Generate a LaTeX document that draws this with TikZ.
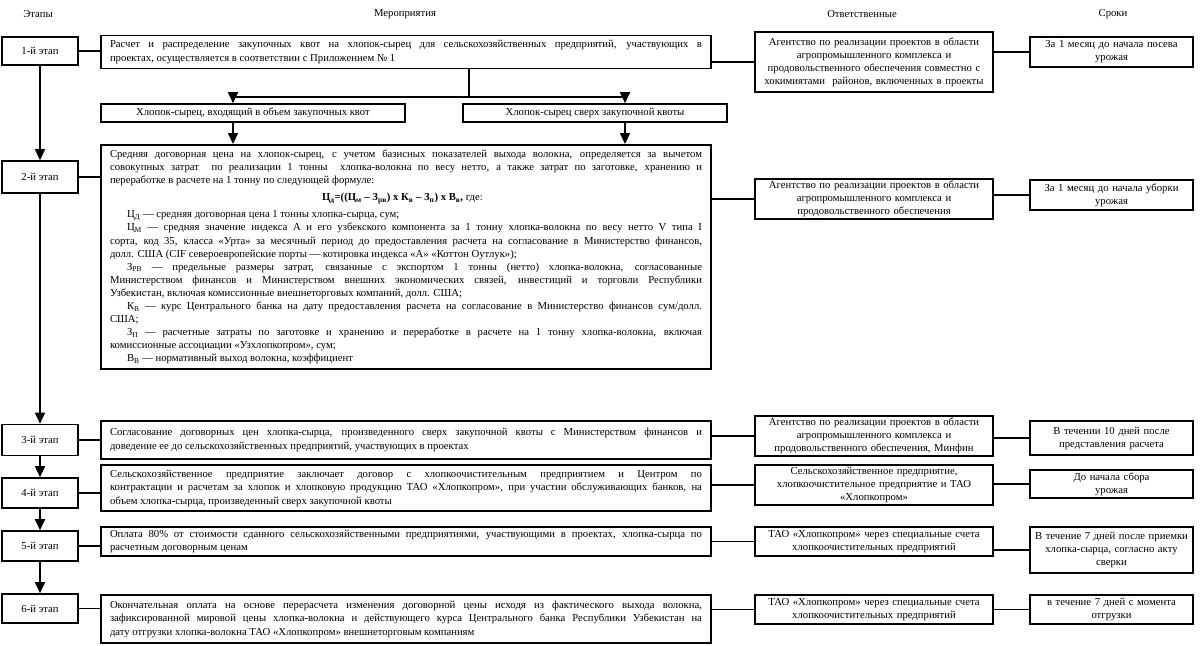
\documentclass[tikz,border=0pt]{standalone}
\usepackage{fontspec}
\setmainfont{Liberation Serif}
\usetikzlibrary{arrows.meta,calc}
\begin{document}
\begin{tikzpicture}[x=1pt,y=-1pt,
  every node/.style={font=\fontsize{10.7}{13.5}\selectfont},
  bx/.style={draw, line width=1.6pt, inner ysep=2pt, inner xsep=4pt},
  stagebox/.style={bx, minimum width=76pt, align=center},
  merop/.style={bx, text width=592pt, inner xsep=9pt, align=justify},
  otv/.style={bx, text width=230pt, align=center, inner ysep=2pt, font=\fontsize{10.7}{13}\selectfont},
  srok/.style={bx, text width=155pt, align=center, inner ysep=2pt, font=\fontsize{10.7}{13}\selectfont},
  sub/.style={bx, align=center},
  conn/.style={line width=1.9pt},
  arr/.style={line width=1.7pt, -{Triangle[length=11pt,width=10pt]}},
  hdr/.style={font=\fontsize{10.7}{13.5}\selectfont}]
\useasboundingbox (0,0) rectangle (1201,645);

% headers
\node[hdr] (h1) at (38,14) {Этапы};
\node[hdr] (h2) at (405,14) {Мероприятия};
\node[hdr] (h3) at (862,14) {Ответственные};
\node[hdr] (h4) at (1113,14) {Сроки};

% row 1
\node[stagebox, minimum height=28pt] (s1) at (40,51) {1-й этап};
\node[merop, minimum height=33pt] (m1) at (406,52) {Расчет и распределение закупочных квот на хлопок-сырец для сельскохозяйственных предприятий, участвующих в\linebreak проектах, осуществляется в соответствии с Приложением № 1};
\node[otv, minimum height=60pt] (o1) at (874,62) {Агентство по реализации проектов в области\\ агропромышленного комплекса и\\ продовольственного обеспечения совместно с\\ хокимиятами\ \ районов, включенных в проекты};
\node[srok, minimum height=30pt] (k1) at (1111.5,52) {За 1 месяц до начала посева\\ урожая};

% sub boxes
\node[sub, minimum width=304pt, minimum height=18pt] (a1) at (253,113) {Хлопок-сырец, входящий в объем закупочных квот};
\node[sub, minimum width=264pt, minimum height=18pt] (b1) at (595,113) {Хлопок-сырец сверх закупочной квоты};
\coordinate (j) at (469,97);
\coordinate (ja) at (233,97);
\coordinate (jb) at (625,97);

% row 2
\node[stagebox, minimum height=32pt] (s2) at (40,177) {2-й этап};
\node[merop, minimum height=224pt, line width=1.9pt, font=\fontsize{10.7}{13.1}\selectfont] (m2) at (406,257) {Средняя договорная цена на хлопок-сырец, с учетом базисных показателей выхода волокна, определяется за вычетом\linebreak совокупных затрат\ \ по реализации 1 тонны\ \ хлопка-волокна по весу нетто, а также затрат по заготовке, хранению и\linebreak переработке в расчете на 1 тонну по следующей формуле:\par
\vskip 4pt
\hbox to \hsize{\hskip 212pt\textbf{Ц\textsubscript{д}=((Ц\textsubscript{м} – З\textsubscript{рв}) x К\textsubscript{в} – З\textsubscript{п}) x В\textsubscript{в},} где:\hfil}
\vskip 4pt
\hspace*{17pt}Ц\textsubscript{Д} — средняя договорная цена 1 тонны хлопка-сырца, сум;\par
\hspace*{17pt}Ц\textsubscript{М} — средняя значение индекса А и его узбекского компонента за 1 тонну хлопка-волокна по весу нетто V типа I\linebreak сорта, код 35, класса «Урта» за месячный период до предоставления расчета на согласование в Министерство финансов,\linebreak долл. США (CIF североевропейские порты — котировка индекса «А» «Коттон Оутлук»);\par
\hspace*{17pt}З\textsubscript{РВ} — предельные размеры затрат, связанные с экспортом 1 тонны (нетто) хлопка-волокна, согласованные\linebreak Министерством финансов и Министерством внешних экономических связей, инвестиций и торговли Республики\linebreak Узбекистан, включая комиссионные внешнеторговых компаний, долл. США;\par
\hspace*{17pt}К\textsubscript{В} — курс Центрального банка на дату предоставления расчета на согласование в Министерство финансов сум/долл.\linebreak США;\par
\hspace*{17pt}З\textsubscript{П} — расчетные затраты по заготовке и хранению и переработке в расчете на 1 тонну хлопка-волокна, включая\linebreak комиссионные ассоциации «Узхлопкопром», сум;\par
\hspace*{17pt}В\textsubscript{В} — нормативный выход волокна, коэффициент};
\node[otv, minimum height=40pt] (o2) at (874,199) {Агентство по реализации проектов в области\\ агропромышленного комплекса и\\ продовольственного обеспечения};
\node[srok, minimum height=30pt] (k2) at (1111.5,195) {За 1 месяц до начала уборки\\ урожая};

% row 3
\node[stagebox, minimum height=31pt] (s3) at (40,440) {3-й этап};
\node[merop, minimum height=38pt] (m3) at (406,440) {Согласование договорных цен хлопка-сырца, произведенного сверх закупочной квоты с Министерством финансов и\linebreak доведение ее до сельскохозяйственных предприятий, участвующих в проектах};
\node[otv, minimum height=40pt] (o3) at (874,436) {Агентство по реализации проектов в области\\ агропромышленного комплекса и\\ продовольственного обеспечения, Минфин};
\node[srok, minimum height=34pt] (k3) at (1111.5,438) {В течении 10 дней после\\ представления расчета};

% row 4
\node[stagebox, minimum height=30pt] (s4) at (40,493) {4-й этап};
\node[merop, minimum height=46pt] (m4) at (406,488) {Сельскохозяйственное предприятие заключает договор с хлопкоочистительным предприятием и Центром по\linebreak контрактации и расчетам за хлопок и хлопковую продукцию ТАО «Хлопкопром», при участии обслуживающих банков, на\linebreak объем хлопка-сырца, произведенный сверх закупочной квоты};
\node[otv, minimum height=40pt] (o4) at (874,485) {Сельскохозяйственное предприятие,\\ хлопкоочистительное предприятие и ТАО\\ «Хлопкопром»};
\node[srok, minimum height=28pt] (k4) at (1111.5,484) {До начала сбора\\ урожая};

% row 5
\node[stagebox, minimum height=30pt] (s5) at (40,546) {5-й этап};
\node[merop, minimum height=29pt] (m5) at (406,541.5) {Оплата 80\% от стоимости сданного сельскохозяйственными предприятиями, участвующими в проектах, хлопка-сырца по\linebreak расчетным договорным ценам};
\node[otv, minimum height=29pt] (o5) at (874,541.5) {ТАО «Хлопкопром» через специальные счета\\ хлопкоочистительных предприятий};
\node[srok, minimum height=46pt] (k5) at (1111.5,550) {В течение 7 дней после приемки\\ хлопка-сырца, согласно акту\\ сверки};

% row 6
\node[stagebox, minimum height=29pt] (s6) at (40,608.5) {6-й этап};
\node[merop, minimum height=48pt] (m6) at (406,619) {Окончательная оплата на основе перерасчета изменения договорной цены исходя из фактического выхода волокна,\linebreak зафиксированной мировой цены хлопка-волокна и действующего курса Центрального банка Республики Узбекистан на\linebreak дату отгрузки хлопка-волокна ТАО «Хлопкопром» внешнеторговым компаниям};
\node[otv, minimum height=29pt] (o6) at (874,609.5) {ТАО «Хлопкопром» через специальные счета\\ хлопкоочистительных предприятий};
\node[srok, minimum height=29pt] (k6) at (1111.5,609.5) {в течение 7 дней с момента\\ отгрузки};

% stage chain
\draw[arr] (s1) -- (s2);
\draw[arr] (s2) -- (s3);
\draw[arr] (s3) -- (s4);
\draw[arr] (s4) -- (s5);
\draw[arr] (s5) -- (s6);

% horizontal connectors
\foreach \i in {1,...,6}{
  \draw[conn] (s\i.east) -- (s\i.east -| m\i.west);
  \draw[conn] (o\i.west -| m\i.east) -- (o\i.west);
  \draw[conn] (k\i.west -| o\i.east) -- (k\i.west);
}

% split
\draw[conn] (j |- m1.south) -- (j);
\draw[conn] (ja) -- (jb);
\draw[arr] (ja) -- (ja |- a1.north);
\draw[arr] (jb) -- (jb |- b1.north);
\draw[arr] (ja |- a1.south) -- (ja |- m2.north);
\draw[arr] (jb |- b1.south) -- (jb |- m2.north);
\end{tikzpicture}
\end{document}
